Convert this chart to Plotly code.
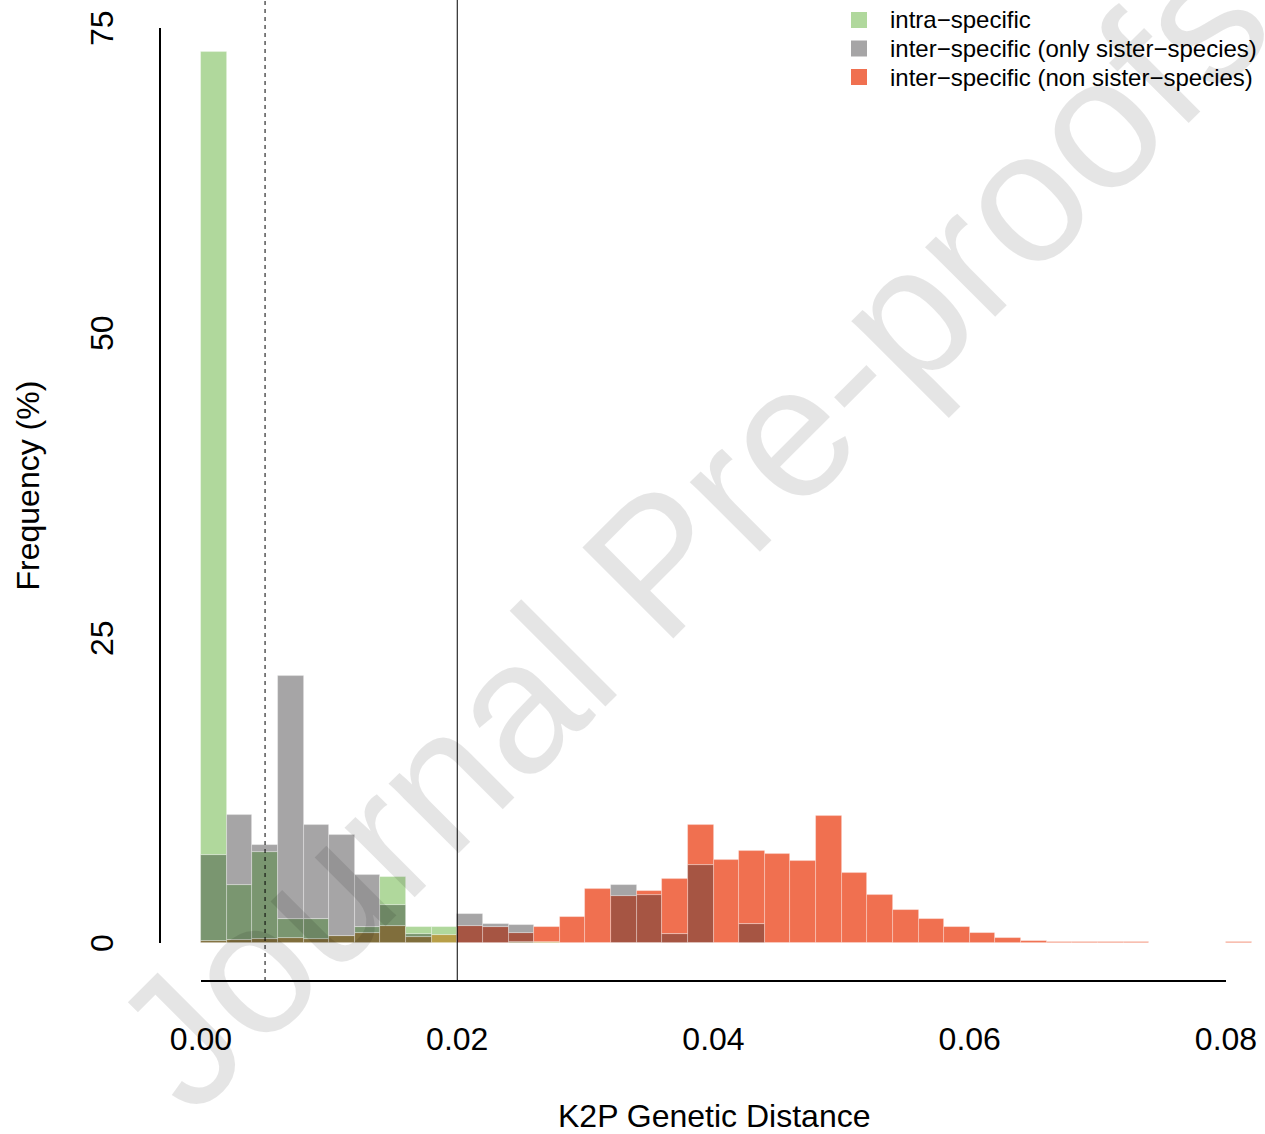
import plotly.graph_objects as go

# ---------------- data (percent frequency per 0.002 bin) ----------------
bin_width = 0.002
bin_starts = [round(i * bin_width, 3) for i in range(42)]

intra = [73.0, 4.75, 7.5, 2.0, 2.0, 0.6, 1.34, 5.43, 1.28, 1.28,
         0, 0, 0.1, 0.1, 0, 0, 0, 0, 0, 0,
         0, 0, 0, 0, 0, 0, 0, 0, 0, 0,
         0, 0, 0, 0, 0, 0, 0, 0, 0, 0, 0, 0]
sister = [7.2, 10.5, 8.0, 21.9, 9.7, 8.85, 5.57, 3.1, 0.75, 0,
          2.35, 1.53, 1.48, 0, 0, 0, 4.75, 3.93, 0.74, 6.42,
          0, 1.53, 0, 0, 0.03, 0.03, 0.03, 0.03, 0.03, 0.03,
          0, 0, 0, 0, 0, 0, 0, 0, 0, 0, 0, 0]
nonsister = [0.15, 0.25, 0.3, 0.45, 0.35, 0.6, 0.8, 1.4, 0.47, 0.66,
             1.39, 1.31, 0.82, 1.31, 2.13, 4.43, 3.85, 4.26, 5.22, 9.67,
             6.8, 7.57, 7.3, 6.72, 10.4, 5.74, 3.93, 2.7, 1.97, 1.31,
             0.82, 0.41, 0.18, 0.1, 0.07, 0.06, 0.05, 0.02, 0.02, 0.02,
             0.07, 0.02]

series_names = ["intra\u2212specific",
                "inter\u2212specific (only sister\u2212species)",
                "inter\u2212specific (non sister\u2212species)"]

y_ticks = [0, 25, 50, 75]
x_ticks = [0.00, 0.02, 0.04, 0.06, 0.08]
x_tick_text = ["0.00", "0.02", "0.04", "0.06", "0.08"]
threshold_dashed = 0.005
threshold_solid = 0.02

# ---------------- colours (single and overlapping) ----------------
colors = {
    frozenset("G"): "#B0D89C",
    frozenset("S"): "#A6A5A6",
    frozenset("R"): "#F07050",
    frozenset("GS"): "#7A9670",
    frozenset("SR"): "#A65543",
    frozenset("GR"): "#B89F48",
    frozenset("GSR"): "#806E3C",
}

# build overlap segments per bin
layers = {k: {"x": [], "base": [], "h": [], "c": []} for k in ("bottom", "mid", "top")}
for i, x0 in enumerate(bin_starts):
    vals = {"G": intra[i], "S": sister[i], "R": nonsister[i]}
    order = sorted(vals.items(), key=lambda kv: -kv[1])
    (k1, v1), (k2, v2), (k3, v3) = order
    xc = x0 + bin_width / 2
    segs = [("bottom", 0, v3, frozenset(k1 + k2 + k3)),
            ("mid", v3, v2 - v3, frozenset(k1 + k2)),
            ("top", v2, v1 - v2, frozenset(k1))]
    for name, b, h, key in segs:
        L = layers[name]
        L["x"].append(xc)
        L["base"].append(b)
        L["h"].append(h if h > 0 else None)
        L["c"].append(colors[key])

fig = go.Figure()
for name in ("bottom", "mid", "top"):
    L = layers[name]
    fig.add_trace(go.Bar(
        x=L["x"], y=L["h"], base=L["base"], width=bin_width,
        marker=dict(color=L["c"], line=dict(width=0.8, color="rgba(255,255,255,0.35)")),
        showlegend=False, hoverinfo="skip"))

# pixel geometry of the plot area
W, H = 1265, 1134
ML, MB = 160, 153
PW, PH = W - ML, H - MB           # 1105 x 981
x_left = (160 - 201) / 12812.5
x_right = (1265 - 201) / 12812.5
y_bottom = (943 - 981) / 12.2
y_top = 943 / 12.2

def px_x(p):
    return (p - ML) / PW

def px_y(p):
    return (PH - p) / PH

font_family = "Liberation Sans, Arial, Helvetica, sans-serif"

fig.update_layout(
    width=W, height=H,
    margin=dict(l=ML, r=0, t=0, b=MB),
    paper_bgcolor="white", plot_bgcolor="white",
    barmode="overlay", bargap=0,
    font=dict(family=font_family, color="black"),
    xaxis=dict(range=[x_left, x_right], showgrid=False, zeroline=False,
               showline=False, ticks="", tickvals=x_ticks, ticktext=x_tick_text,
               tickfont=dict(size=32), ticklabelstandoff=36),
    yaxis=dict(range=[y_bottom, y_top], showgrid=False, zeroline=False,
               showline=False, ticks="", tickvals=y_ticks, tickangle=-90,
               tickfont=dict(size=32), ticklabelstandoff=40, ticklabelshift=5),
    showlegend=False,
)

shapes = [
    # y axis line (0..75)
    dict(type="line", xref="paper", yref="y", x0=0, x1=0, y0=0, y1=75,
         line=dict(color="black", width=2)),
    # x axis line (0..0.08)
    dict(type="line", xref="x", yref="paper", x0=0, x1=0.08, y0=0, y1=0,
         line=dict(color="black", width=2)),
    # thresholds
    dict(type="line", xref="x", yref="paper", x0=threshold_dashed, x1=threshold_dashed,
         y0=0, y1=1, line=dict(color="black", width=1, dash="4px,4px")),
    dict(type="line", xref="x", yref="paper", x0=threshold_solid, x1=threshold_solid,
         y0=0, y1=1, line=dict(color="black", width=1)),
]

annotations = [
    dict(text="Frequency (%)", xref="paper", yref="y", x=px_x(27), y=37.5,
         textangle=-90, showarrow=False, font=dict(size=32), xanchor="center", yanchor="middle"),
    dict(text="K2P Genetic Distance", xref="x", yref="paper", x=0.04, y=px_y(1116),
         showarrow=False, font=dict(size=32), xanchor="center", yanchor="middle"),
]

# legend (top right)
legend_rows = [20, 48.5, 77]
for nm, key, cy in zip(series_names, ["G", "S", "R"], legend_rows):
    shapes.append(dict(type="rect", xref="paper", yref="paper",
                       x0=px_x(851), x1=px_x(867), y0=px_y(cy + 8), y1=px_y(cy - 8),
                       fillcolor=colors[frozenset(key)], line=dict(width=0)))
    annotations.append(dict(text=nm, xref="paper", yref="paper", x=px_x(888), y=px_y(cy),
                            xanchor="left", yanchor="middle", showarrow=False,
                            font=dict(size=24)))

# watermark
annotations.append(dict(text="Journal Pre-proofs", xref="paper", yref="paper",
                        x=px_x(690), y=px_y(530), textangle=-45,
                        showarrow=False, font=dict(size=187, color="rgba(0,0,0,0.1)"),
                        xanchor="center", yanchor="middle"))

fig.update_layout(shapes=shapes, annotations=annotations)

fig.write_html("out.html", post_script="document.body.style.margin='0';",
               config={"displayModeBar": False})
